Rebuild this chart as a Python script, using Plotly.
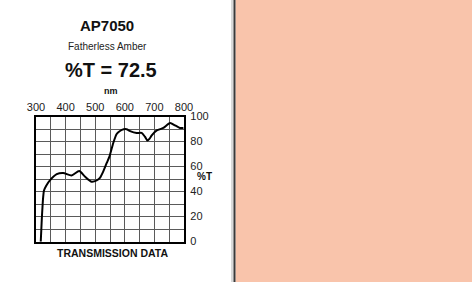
import plotly.graph_objects as go

# Data
wavelength_nm = [316, 318, 320, 322, 324, 327, 335, 347, 370, 392, 420, 446, 466, 488, 505,
                 516, 527, 539, 548, 561, 572, 578, 590, 606, 618, 640, 657, 668, 676, 684,
                 691, 708, 730, 753, 770, 786, 798]
transmission = [0, 10, 20, 28, 35, 41, 45, 49, 54, 55, 53, 56.5, 52, 48, 49,
                51, 56, 63, 68, 79, 86, 87.5, 89.5, 90, 88.5, 87, 87, 84, 81, 82.5,
                85, 89, 91, 95, 93, 91, 91]

x_tickvals = list(range(300, 801, 50))
x_ticktext = [str(v) if v % 100 == 0 else "" for v in x_tickvals]
y_tickvals = list(range(0, 101, 10))
y_ticktext = [str(v) if v % 20 == 0 else "" for v in y_tickvals]

title = "AP7050"
subtitle = "Fatherless Amber"
summary = "%T = 72.5"

W, H = 472, 282
def px(x):
    return x / W
def py(y):
    return 1 - y / H

FONT = "Liberation Sans, Arial, sans-serif"

fig = go.Figure()
fig.add_trace(go.Scatter(x=wavelength_nm, y=transmission, mode="lines",
                         line=dict(color="black", width=2, shape="spline", smoothing=0.6),
                         hoverinfo="skip", showlegend=False))

fig.update_layout(
    width=W, height=H, autosize=False,
    margin=dict(l=0, r=0, t=0, b=0, pad=0),
    paper_bgcolor="white", plot_bgcolor="white",
    font=dict(family=FONT, color="#111"),
    xaxis=dict(domain=[px(36), px(184)], range=[300, 800], side="top", automargin=False,
               tickvals=x_tickvals, ticktext=x_ticktext, ticks="",
               ticklabelstandoff=-1,
               showgrid=True, gridcolor="#5a5a5a", gridwidth=1.2,
               showline=True, mirror=True, linecolor="black", linewidth=2.2,
               zeroline=False, fixedrange=True, tickfont=dict(size=11, family=FONT, color="#222")),
    yaxis=dict(domain=[py(241.7), py(116.7)], range=[0, 100], side="right", automargin=False,
               tickvals=y_tickvals, ticktext=y_ticktext, ticks="",
               ticklabelstandoff=2, ticklabelshift=-1,
               showgrid=True, gridcolor="#5a5a5a", gridwidth=1.2,
               showline=True, mirror=True, linecolor="black", linewidth=2.2,
               zeroline=False, fixedrange=True, tickfont=dict(size=11, family=FONT, color="#222")),
    shapes=[
        dict(type="rect", xref="paper", yref="paper", x0=px(231), x1=px(233.5), y0=0, y1=1,
             fillcolor="#d9d9d9", line=dict(width=0), layer="below"),
        dict(type="rect", xref="paper", yref="paper", x0=px(235.5), x1=1, y0=0, y1=1,
             fillcolor="#F9C4AB", line=dict(width=0), layer="below"),
        dict(type="line", xref="paper", yref="paper", x0=px(234.5), x1=px(234.5), y0=0, y1=1,
             line=dict(color="#3a3a3a", width=2)),
    ],
    annotations=[
        dict(text="<b>" + title + "</b>", xref="paper", yref="paper", x=px(107), y=py(25.5),
             showarrow=False, font=dict(size=15, family=FONT, color="#111"), xanchor="center", yanchor="middle"),
        dict(text=subtitle, xref="paper", yref="paper", x=px(107.5), y=py(46),
             showarrow=False, font=dict(size=10, family=FONT, color="#222"), xanchor="center", yanchor="middle"),
        dict(text="<b>" + summary + "</b>", xref="paper", yref="paper", x=px(111), y=py(69.5),
             showarrow=False, font=dict(size=20, family=FONT, color="#111"), xanchor="center", yanchor="middle"),
        dict(text="<b>nm</b>", xref="paper", yref="paper", x=px(111), y=py(90.5),
             showarrow=False, font=dict(size=9, family=FONT, color="#111"), xanchor="center", yanchor="middle"),
        dict(text="<b>%T</b>", xref="paper", yref="paper", x=px(204), y=py(176.5),
             showarrow=False, font=dict(size=10, family=FONT, color="#111"), xanchor="center", yanchor="middle"),
        dict(text="<b>TRANSMISSION DATA</b>", xref="paper", yref="paper", x=px(112.5), y=py(252.7),
             showarrow=False, font=dict(size=10.5, family=FONT, color="#111"), xanchor="center", yanchor="middle"),
    ],
)

fig.write_html("out.html")
